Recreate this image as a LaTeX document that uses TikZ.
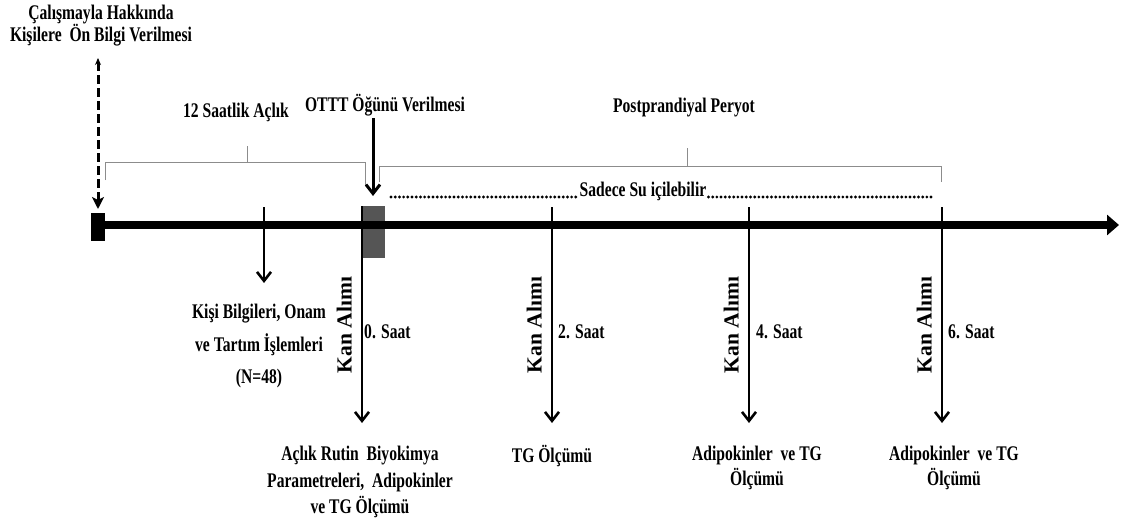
\documentclass[tikz,border=0pt]{standalone}
\usepackage{fontspec}
\setmainfont{Liberation Serif}[FakeStretch=0.75]
\newfontfamily\kanfont{Liberation Serif}
\usetikzlibrary{arrows.meta, positioning, calc}
\definecolor{mealgray}{HTML}{555555}
\definecolor{bracegray}{HTML}{8C8C8C}
\tikzset{
  lbl/.style = {font=\fontsize{20.8}{22}\selectfont\bfseries, inner sep=0pt, align=center},
  kan/.style = {font=\kanfont\fontsize{21.5}{22}\selectfont\bfseries, rotate=90, anchor=south, inner sep=0pt},
  kanarrow/.style = {line width=2.6pt, -{Straight Barb[length=9pt, width=14pt]}},
  brace/.style = {draw=bracegray, line width=1pt},
  dots/.style = {line width=3.2pt, line cap=round, dash pattern=on 0pt off 4.2pt}
}

\begin{document}
\begin{tikzpicture}[x=1pt, y=-1pt]
  \useasboundingbox (0,0) rectangle (1124,522);

  %% Study timeline

  % Timeline
  \node[fill=mealgray, minimum width=23pt, minimum height=52pt, inner sep=0pt] (meal) at (373.5,232) {};
  \node[fill=black, minimum width=14pt, minimum height=28pt, inner sep=0pt] (start) at (98,227) {};
  \coordinate (tlend) at (1119,225);
  \draw[line width=8pt, -{Triangle[length=12pt, width=20pt]}] (start.east |- tlend) -- (tlend);

  % Information before the study
  \node[lbl] (info) at (101,26) {Çalışmayla Hakkında\\Kişilere~ Ön Bilgi Verilmesi};
  \coordinate (infotop) at (98,58);
  \coordinate (infotip) at (98,209);
  \draw[line width=3pt, dash pattern=on 9pt off 4pt, {Stealth[length=7pt, width=6pt]}-{Stealth[length=12pt, width=12pt, inset=3pt]}] (infotop) -- (infotip);

  % Fasting and postprandial periods
  \node[lbl] (fast) at (236,112) {12 Saatlik Açlık};
  \draw[brace] (105,180) -- (105,162) -- (365,162) -- (365,185);
  \draw[brace] (247,146) -- (247,162);
  \node[lbl] (post) at (684,108) {Postprandiyal Peryot};
  \draw[brace] (379,182) -- (379,166) -- (941,166) -- (941,182);
  \draw[brace] (687,148) -- (687,166);

  % Test meal
  \node[lbl] (ottt) at (385,105) {OTTT Öğünü Verilmesi};
  \coordinate (otttop) at (373,118);
  \coordinate (ottip) at (373,196);
  \draw[line width=3pt, -{Straight Barb[length=9pt, width=14pt]}] (otttop) -- (ottip);

  % Only water
  \node[lbl, inner xsep=2pt] (water) at (643,191) {Sadece Su içilebilir};
  \coordinate (dotL) at (391,197);
  \coordinate (dotR) at (933,197);
  \draw[dots] (dotL) -- (dotL -| water.west);
  \draw[dots] (dotR -| water.east) -- (dotR);

  % Subject data
  \coordinate (k1) at (264,207);
  \coordinate (k2) at (264,283);
  \draw[line width=2.6pt, -{Straight Barb[length=9pt, width=14pt]}] (k1) -- (k2);
  \node[lbl, font=\fontsize{20.8}{32.5}\selectfont\bfseries] (subj) at (259,346) {Kişi Bilgileri, Onam\\ve Tartım İşlemleri\\(N=48)};

  % Blood samples
  \coordinate (t0) at (362,206);
  \coordinate (b0) at (362,423);
  \draw[kanarrow] (t0) -- (b0);
  \node[kan] (kan0) at (352,325) {Kan Alımı};
  \node[lbl, anchor=west] (h0) at (364,332) {0. Saat};
  \node[lbl, font=\fontsize{20.8}{26.5}\selectfont\bfseries] (r0) at (360,482) {Açlık Rutin~ Biyokimya\\Parametreleri,~ Adipokinler\\ve TG Ölçümü};

  \coordinate (t2) at (552,207);
  \coordinate (b2) at (552,423);
  \draw[kanarrow] (t2) -- (b2);
  \node[kan] (kan2) at (542,325) {Kan Alımı};
  \node[lbl, anchor=west] (h2) at (558,332) {2. Saat};
  \node[lbl] (r2) at (552,456) {TG Ölçümü};

  \coordinate (t4) at (749,207);
  \coordinate (b4) at (749,423);
  \draw[kanarrow] (t4) -- (b4);
  \node[kan] (kan4) at (739,325) {Kan Alımı};
  \node[lbl, anchor=west] (h4) at (756,332) {4. Saat};
  \node[lbl, font=\fontsize{20.8}{25}\selectfont\bfseries] (r4) at (757,468) {Adipokinler~ ve TG\\Ölçümü};

  \coordinate (t6) at (942,207);
  \coordinate (b6) at (942,423);
  \draw[kanarrow] (t6) -- (b6);
  \node[kan] (kan6) at (932,325) {Kan Alımı};
  \node[lbl, anchor=west] (h6) at (948,332) {6. Saat};
  \node[lbl, font=\fontsize{20.8}{25}\selectfont\bfseries] (r6) at (954,468) {Adipokinler~ ve TG\\Ölçümü};

\end{tikzpicture}
\end{document}
